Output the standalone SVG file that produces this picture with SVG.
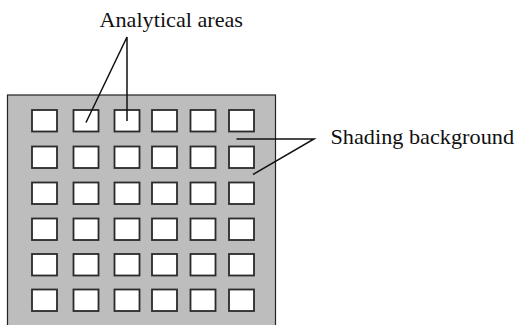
<svg xmlns="http://www.w3.org/2000/svg" width="517" height="325" viewBox="0 0 517 325">
  <style>
    .bg { fill: #bdbdbd; stroke: #222; stroke-width: 1.2; }
    .cell { fill: #fff; stroke: #2a2a2a; stroke-width: 1.8; }
    .lead { fill: none; stroke: #111; stroke-width: 1.5; }
    .lbl { font-family: "Liberation Serif", "Times New Roman", serif; font-size: 22px; fill: #111; }
  </style>
  <rect width="517" height="325" fill="#fff"/>
  <g id="background">
    <rect class="bg" x="7.5" y="95" width="268" height="240"/>
  </g>
  <defs>
    <g id="row">
      <rect class="cell" x="32" y="0" width="25" height="21.5"/>
      <rect class="cell" x="73.5" y="0" width="25" height="21.5"/>
      <rect class="cell" x="114.5" y="0" width="25" height="21.5"/>
      <rect class="cell" x="152" y="0" width="25" height="21.5"/>
      <rect class="cell" x="190.5" y="0" width="25" height="21.5"/>
      <rect class="cell" x="229" y="0" width="25" height="21.5"/>
    </g>
  </defs>
  <g id="grid">
    <use href="#row" y="110"/>
    <use href="#row" y="146.5"/>
    <use href="#row" y="182.5"/>
    <use href="#row" y="218.5"/>
    <use href="#row" y="254"/>
    <use href="#row" y="289.5"/>
  </g>
  <g id="connectors">
    <polyline class="lead" points="86,122.5 127,37 127,121"/>
    <polyline class="lead" points="236.5,139 314,139 253,174.5"/>
  </g>
  <g id="label-analytical">
    <text class="lbl" x="99.5" y="27" textLength="143.5" lengthAdjust="spacingAndGlyphs">Analytical areas</text>
  </g>
  <g id="label-shading">
    <text class="lbl" x="330.5" y="143.5" textLength="183.5" lengthAdjust="spacingAndGlyphs">Shading background</text>
  </g>
</svg>
